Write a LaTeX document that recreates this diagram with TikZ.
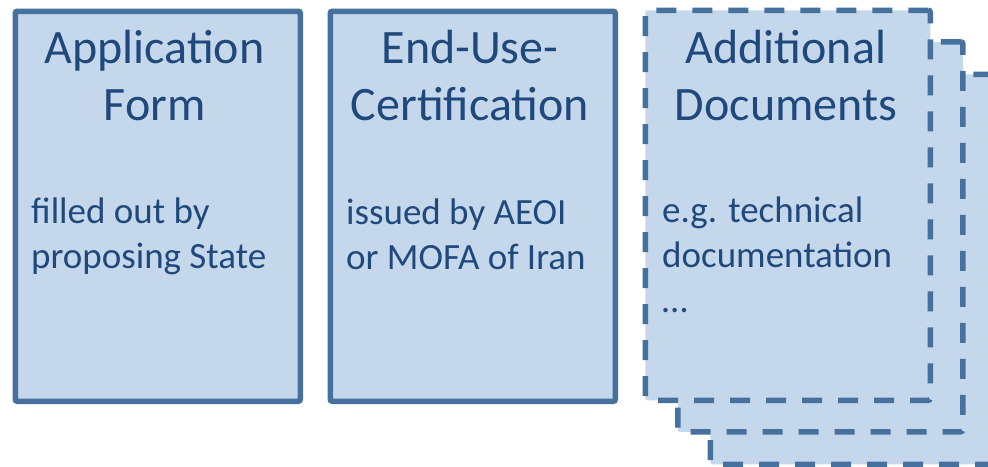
\documentclass[tikz,border=0pt]{standalone}
\usepackage{fontspec}
\setmainfont{Carlito}
\definecolor{boxfill}{RGB}{197,216,235}
\definecolor{boxline}{RGB}{70,112,158}
\definecolor{txt}{RGB}{31,73,125}
\begin{document}
\begin{tikzpicture}[x=1pt,y=-1pt,
  docbox/.style={draw=boxline, fill=boxfill, line width=5.5pt, rounded corners=2pt,
    minimum width=285pt, minimum height=390pt, inner sep=0pt, anchor=north west},
  dashbox/.style={docbox, dash pattern=on 20pt off 16pt},
  title/.style={text=txt, align=center, font=\fontsize{48}{57}\selectfont, anchor=base, inner sep=0pt},
  body/.style={text=txt, align=left, font=\fontsize{37}{45}\selectfont, anchor=base west, inner sep=0pt}]
\useasboundingbox (0,0) rectangle (988,466);
% boxes
\node[docbox] (b1) at (12.5,8.5) {};
\node[docbox] (b2) at (327.5,8.5) {};
\node[dashbox] (b3c) at (707.5,71.5) {};
\node[dashbox] (b3b) at (675,39) {};
\node[dashbox] (b3) at (642.5,7.5) {};
% titles (anchored at the baseline of the last line)
\node[title] (t1) at (154.5,120) {Application\\Form};
\node[title] (t2) at (470,120) {End-Use-\\Certification};
\node[title] (t3) at (786,120) {Additional\\Documents};
% bodies (anchored at the baseline of the last line)
\node[body] (d1) at (31,268) {filled out by\\proposing State};
\node[body] (d2) at (346,269) {issued by AEOI\\or MOFA of Iran};
\node[body] (d3) at (662,312) {e.g. technical\\documentation\\…};
\end{tikzpicture}
\end{document}
